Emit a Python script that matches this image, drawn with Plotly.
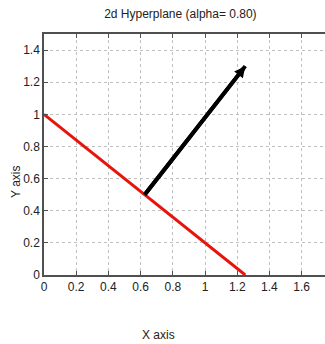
import plotly.graph_objects as go

title_text = "2d Hyperplane (alpha= 0.80)"
line_x = [0.0, 1.25]
line_y = [1.0, 0.0]
arrow_start = [0.625, 0.5]
arrow_end = [1.25, 1.3]
x_ticks = [0, 0.2, 0.4, 0.6, 0.8, 1, 1.2, 1.4, 1.6]
y_ticks = [0, 0.2, 0.4, 0.6, 0.8, 1, 1.2, 1.4]

fig = go.Figure()
fig.add_trace(go.Scatter(x=line_x, y=line_y, mode="lines",
                         line=dict(color="#e8140c", width=3), showlegend=False))
fig.add_trace(go.Scatter(x=[arrow_start[0], arrow_end[0]], y=[arrow_start[1], arrow_end[1]],
                         mode="lines", line=dict(color="black", width=4), showlegend=False))
fig.add_annotation(x=arrow_end[0], y=arrow_end[1], ax=arrow_start[0], ay=arrow_start[1],
                   xref="x", yref="y", axref="x", ayref="y", text="", showarrow=True,
                   arrowhead=2, arrowsize=0.55, arrowwidth=4, arrowcolor="black")

axis_common = dict(showgrid=True, gridcolor="#c0c0c0", griddash="dot", gridwidth=1,
                   showline=True, linecolor="#505050", linewidth=1.5,
                   ticks="inside", ticklen=4, tickcolor="#505050", zeroline=False,
                   tickfont=dict(family="Liberation Sans, Arial", size=12, color="#222"))
fig.update_xaxes(range=[0, 1.745], tickvals=x_ticks, ticktext=[f"{v:g}" for v in x_ticks],
                 mirror="ticks", **axis_common)
fig.update_yaxes(range=[0, 1.5], tickvals=y_ticks, ticktext=[f"{v:g}" for v in y_ticks],
                 mirror=False, **axis_common)

fig.add_annotation(text="Y axis", xref="paper", yref="paper", x=-0.13, y=0.388,
                   textangle=-90, showarrow=False, yanchor="middle",
                   font=dict(family="Liberation Sans, Arial", size=12, color="#222"))
fig.add_annotation(text="X axis", xref="paper", yref="paper", x=0.409, y=-0.25,
                   showarrow=False, yanchor="middle",
                   font=dict(family="Liberation Sans, Arial", size=12, color="#222"))

fig.update_layout(width=325, height=344, margin=dict(l=44, r=0, t=34, b=69),
                  paper_bgcolor="white", plot_bgcolor="white",
                  title=dict(text=title_text, x=0.555, xanchor="center", y=0.96, yanchor="middle",
                             font=dict(family="Liberation Sans, Arial", size=12, color="#222")))
fig.write_html("out.html")
